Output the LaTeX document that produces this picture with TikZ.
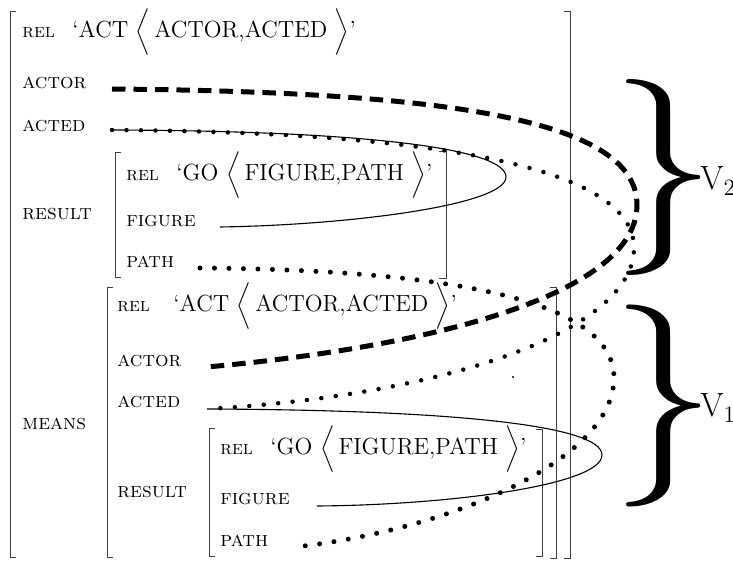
\documentclass[tikz,border=0pt]{standalone}
\usepackage{graphicx}
\newcommand\angL{$\biggl\langle$}
\newcommand\angR{$\biggr\rangle$}
% brace glyph trimmed to its ink, then stretched
\newcommand\bigbrace[1]{\resizebox*{34.45pt}{#1}{$\kern-0.089em\}\kern-0.09em$}}
\begin{document}
\begin{tikzpicture}[x=0.5141pt,y=-0.5141pt,
  rellab/.style={anchor=base west, inner sep=0pt, font=\fontsize{10}{12}\selectfont\scshape},
  lab/.style={anchor=base west, inner sep=0pt, font=\fontsize{10.95}{13.6}\selectfont\scshape},
  val/.style={anchor=base west, inner sep=0pt, font=\fontsize{12}{14.5}\selectfont},
  vlab/.style={anchor=base west, inner sep=0pt, font=\LARGE},
  brk/.style={line width=0.46pt, black!75},
  dotline/.style={line width=2.31pt, line cap=round, dash pattern=on 0pt off 7.45pt},
  dashline/.style={line width=2.57pt, dash pattern=on 6.94pt off 4.11pt},
  solidline/.style={line width=0.57pt}]
\useasboundingbox (0,0) rectangle (733,561);
% brackets
\draw[brk] (16,11) -- (10,11) -- (10,557) -- (16,557);
\draw[brk] (564,11) -- (570,11) -- (570,558) -- (564,558);
\draw[brk] (121,152) -- (115,152) -- (115,277) -- (121,277);
\draw[brk] (439,151) -- (446,151) -- (446,278) -- (439,278);
\draw[brk] (113,287) -- (107,287) -- (107,557) -- (113,557);
\draw[brk] (550,287) -- (556,287) -- (556,558) -- (550,558);
\draw[brk] (215,428) -- (209,428) -- (209,556) -- (215,556);
\draw[brk] (536,429) -- (542,429) -- (542,556) -- (536,556);
% outer frame texts
\node[rellab] (rel1) at (22,38) {rel};
\node[val] (v1) at (72,38) {‘ACT \angL\,ACTOR,ACTED \angR’};
\node[lab] (actor1) at (22,89) {actor};
\node[lab] (acted1) at (22,132) {acted};
\node[lab] (result1) at (22,220) {result};
\node[lab] (means) at (22,430) {means};
% first result
\node[rellab] (rel2) at (126,181) {rel};
\node[val] (v2) at (176,181) {‘GO \angL\,FIGURE,PATH \angR’};
\node[lab] (figure2) at (126,227) {figure};
\node[lab] (path2) at (126,268) {path};
% means
\node[rellab] (rel3) at (117,312) {rel};
\node[val] (v3) at (173,312) {‘ACT \angL\,ACTOR,ACTED \angR’};
\node[lab] (actor3) at (117,367) {actor};
\node[lab] (acted3) at (117,408) {acted};
\node[lab] (result3) at (117,498) {result};
% inner result
\node[rellab] (rel4) at (220,455) {rel};
\node[val] (v4) at (270,455) {‘GO \angL\,FIGURE,PATH \angR’};
\node[lab] (figure4) at (220,505) {figure};
\node[lab] (path4) at (220,547) {path};
% line end points
\coordinate (pActor1) at (112,89);
\coordinate (pActed1) at (112,130);
\coordinate (pFig2) at (220,227);
\coordinate (pPath2) at (200,268);
\coordinate (pActor3) at (207,367);
\coordinate (pActed3) at (207,409);
\coordinate (pFig4) at (317,506);
\coordinate (pPath4) at (295,547);
% solid hairpins
\draw[solidline] (pActed1) .. controls (380,131) and (506,150) .. (506,177)
  .. controls (506,205) and (350,225) .. (pFig2);
\draw[solidline] (pActed3) .. controls (450,410) and (602,425) .. (602,455)
  .. controls (602,485) and (450,505) .. (pFig4);
% dotted lines
\draw[dotline] (pActed1) .. controls (400,132) and (634,160) .. (634,248)
  .. controls (634,330) and (450,395) .. (pActed3);
\draw[dotline, line width=2.57pt] (pPath2) .. controls (450,270) and (614,300) .. (614,378)
  .. controls (614,460) and (450,530) .. (pPath4);
% dashed line
\draw[dashline] (pActor1) .. controls (450,92) and (637,120) .. (637,205)
  .. controls (637,290) and (450,345) .. (pActor3);
\fill (513,377) circle (0.57pt);
% braces
\node[inner sep=0pt, anchor=north west] (br2) at (630,79) {\bigbrace{100.77pt}};
\node[inner sep=0pt, anchor=north west] (br1) at (630,305) {\bigbrace{103.85pt}};
\node[vlab] (V2) at (700,190) {$\mathrm{V}_2$};
\node[vlab] (V1) at (700,417) {$\mathrm{V}_1$};
\end{tikzpicture}
\end{document}
